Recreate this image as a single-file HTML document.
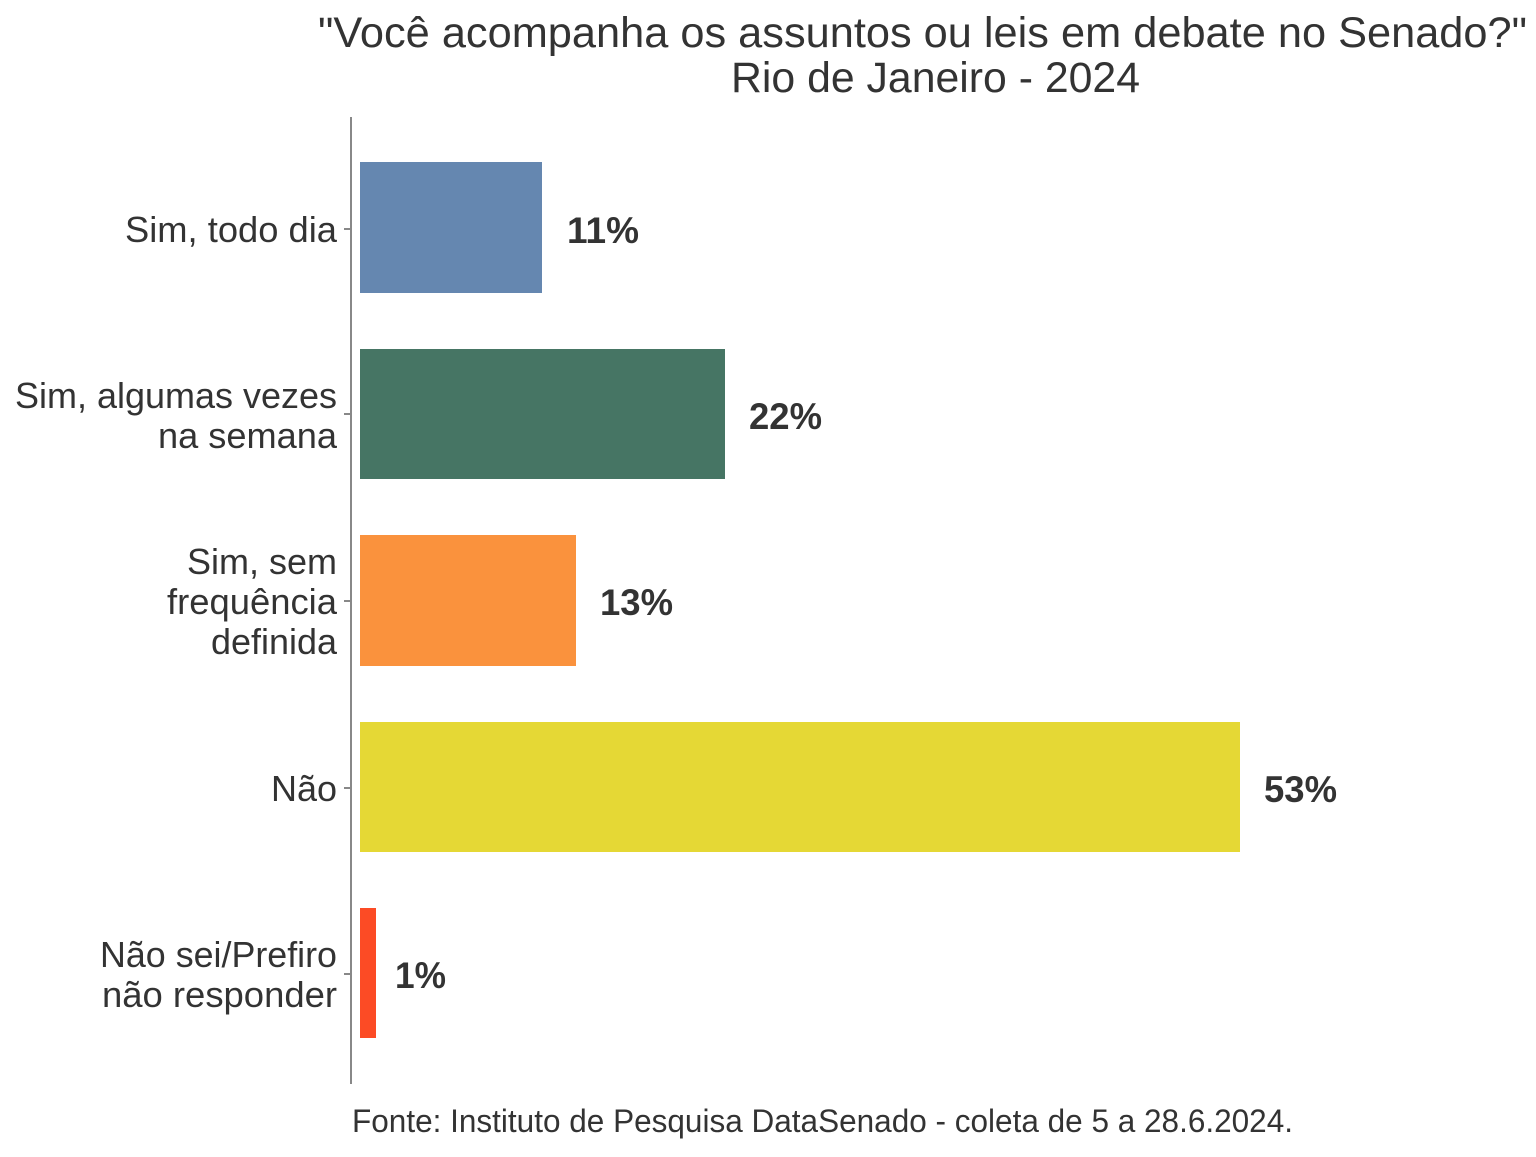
<!DOCTYPE html>
<html><head><meta charset="utf-8"><style>
body{margin:0;background:#fff;}
svg text{font-family:"Liberation Sans",sans-serif;fill:#333;}
</style></head><body>
<svg width="1536" height="1152" xmlns="http://www.w3.org/2000/svg">
<rect width="1536" height="1152" fill="#fff"/>
<text x="318" y="47" font-size="43" textLength="1209" lengthAdjust="spacingAndGlyphs">"Você acompanha os assuntos ou leis em debate no Senado?"</text>
<text x="731" y="92" font-size="43" textLength="409" lengthAdjust="spacingAndGlyphs">Rio de Janeiro - 2024</text>
<line x1="351" y1="117" x2="351" y2="1084" stroke="#888" stroke-width="2"/>
<g stroke="#888" stroke-width="2">
<line x1="344" y1="229" x2="351" y2="229"/><line x1="344" y1="414" x2="351" y2="414"/><line x1="344" y1="601" x2="351" y2="601"/><line x1="344" y1="788" x2="351" y2="788"/><line x1="344" y1="974" x2="351" y2="974"/>
</g>
<rect x="360" y="162" width="182" height="131" fill="#6587b0"/>
<rect x="360" y="349" width="365" height="130" fill="#467564"/>
<rect x="360" y="535" width="216" height="131" fill="#fa923d"/>
<rect x="360" y="722" width="880" height="130" fill="#e5d835"/>
<rect x="360" y="908" width="16" height="130" fill="#fc4b25"/>
<g font-size="37" font-weight="bold" lengthAdjust="spacingAndGlyphs">
<text x="567" y="243" textLength="72" lengthAdjust="spacingAndGlyphs">11%</text>
<text x="749" y="429" textLength="73" lengthAdjust="spacingAndGlyphs">22%</text>
<text x="600" y="615" textLength="73" lengthAdjust="spacingAndGlyphs">13%</text>
<text x="1264" y="802" textLength="73" lengthAdjust="spacingAndGlyphs">53%</text>
<text x="395" y="988" textLength="51" lengthAdjust="spacingAndGlyphs">1%</text>
</g>
<g font-size="36">
<text x="125" y="242" textLength="212" lengthAdjust="spacingAndGlyphs">Sim, todo dia</text>
<text x="15" y="408" textLength="322" lengthAdjust="spacingAndGlyphs">Sim, algumas vezes</text>
<text x="158" y="448" textLength="179" lengthAdjust="spacingAndGlyphs">na semana</text>
<text x="187" y="574" textLength="150" lengthAdjust="spacingAndGlyphs">Sim, sem</text>
<text x="167" y="614" textLength="170" lengthAdjust="spacingAndGlyphs">frequência</text>
<text x="211" y="654" textLength="126" lengthAdjust="spacingAndGlyphs">definida</text>
<text x="271" y="801" textLength="66" lengthAdjust="spacingAndGlyphs">Não</text>
<text x="100" y="967" textLength="237" lengthAdjust="spacingAndGlyphs">Não sei/Prefiro</text>
<text x="102" y="1007" textLength="235" lengthAdjust="spacingAndGlyphs">não responder</text>
</g>
<text x="352" y="1132" font-size="32" textLength="941" lengthAdjust="spacingAndGlyphs">Fonte: Instituto de Pesquisa DataSenado - coleta de 5 a 28.6.2024.</text>
</svg>
</body></html>
